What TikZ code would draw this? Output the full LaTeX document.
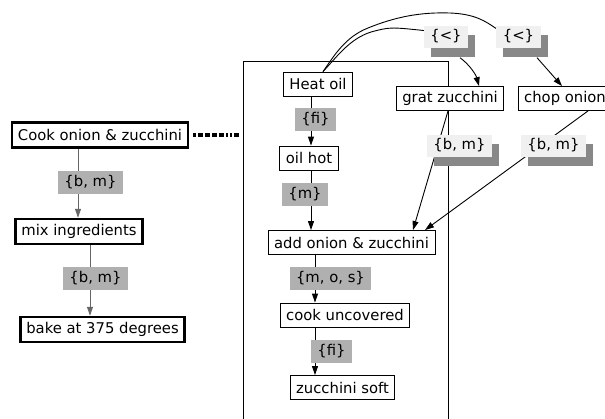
\documentclass[tikz,border=0pt]{standalone}
\usepackage{fontspec}
\setmainfont{DejaVu Sans}
\usetikzlibrary{arrows.meta,shadows,calc}
\definecolor{lblgray}{HTML}{B0B0B0}
\definecolor{lightlbl}{HTML}{F0F0F0}
\definecolor{shadowgray}{HTML}{888888}
\definecolor{edgegray}{HTML}{666666}
\pgfdeclarelayer{background}
\pgfsetlayers{background,main}
\begin{document}
\begin{tikzpicture}[x=1pt,y=-1pt, font=\fontsize{14.8}{18}\selectfont,
 box/.style={draw, fill=white, line width=0.9pt, minimum height=24pt, inner xsep=6pt, inner ysep=0pt},
 thickbox/.style={box, line width=2.5pt, minimum height=25pt},
 glabel/.style={fill=lblgray, minimum height=23pt, inner xsep=6.5pt, inner ysep=0pt},
 slabel/.style={fill=lightlbl, minimum height=22pt, inner xsep=6.5pt, inner ysep=0pt,
   drop shadow={shadow xshift=7pt, shadow yshift=-9pt, fill=shadowgray, opacity=1}},
 arr/.style={-{Triangle[length=9pt,width=6pt]}, line width=0.9pt},
 conn/.style={line width=0.9pt},
]
\useasboundingbox (0,0) rectangle (605,418);

% nodes
\node[thickbox] (cook) at (100,135) {Cook onion \& zucchini};
\node[thickbox] (mix) at (79,231.5) {mix ingredients};
\node[thickbox] (bake) at (102.5,329.5) {bake at 375 degrees};
\node[box] (heat) at (318,84) {Heat oil};
\node[box] (hot) at (309,158) {oil hot};
\node[box] (add) at (351.5,242.5) {add onion \& zucchini};
\node[box] (unc) at (345,315) {cook uncovered};
\node[box] (soft) at (342.5,387.5) {zucchini soft};
\node[box] (grat) at (450,98.5) {grat zucchini};
\node[box] (chop) at (565,98.5) {chop onion};

% edge labels
\node[glabel] (l1) at (90.5,182) {\{b, m\}};
\node[glabel] (l2) at (95.5,278) {\{b, m\}};
\node[glabel] (l3) at (315.5,119.5) {\{fi\}};
\node[glabel] (l4) at (305,194) {\{m\}};
\node[glabel] (l5) at (330.5,278.5) {\{m, o, s\}};
\node[glabel] (l6) at (331.5,351) {\{fi\}};
\node[slabel] (s1) at (446,36.5) {\{<\}};
\node[slabel] (s2) at (518.5,36.5) {\{<\}};
\node[slabel] (s3) at (459.5,145.5) {\{b, m\}};
\node[slabel] (s4) at (553.5,145.5) {\{b, m\}};

\coordinate (xa) at (78,0);
\coordinate (xb) at (90,0);
\coordinate (xc) at (311,0);
\coordinate (xd) at (315,0);

\begin{pgfonlayer}{background}
\node[draw, line width=0.9pt, minimum width=205pt, minimum height=380pt, inner sep=0pt] (cluster) at (345.5,251) {};
\draw[arr, edgegray] (cook.south -| xa) -- (mix.north -| xa);
\draw[arr, edgegray] (mix.south -| xb) -- (bake.north -| xb);
\draw[arr] (heat.south -| xc) -- (hot.north -| xc);
\draw[arr] (hot.south -| xc) -- (add.north -| xc);
\draw[arr] (add.south -| xd) -- (unc.north -| xd);
\draw[arr] (unc.south -| xd) -- (soft.north -| xd);
\draw[arr] ([xshift=-2pt]grat.south) -- ([xshift=61.5pt]add.north);
\draw[arr] ([xshift=23pt]chop.south) -- ([xshift=73.5pt]add.north);
\draw[conn] ([xshift=5pt]heat.north) .. controls (336,58) and (349,39) .. (371,32)
  .. controls (390,27) .. ([yshift=6pt]s1.west) -- (s1.center);
\draw[conn] ([xshift=5pt]heat.north) .. controls (334,56) and (345,37) .. (368,28)
  .. controls (395,17) and (420,12) .. (450,13)
  .. controls (475,14) and (485,21) .. ([yshift=8pt]s2.west) -- (s2.center);
\end{pgfonlayer}

\draw[arr] ($(s1.south)+(14,10)$) .. controls (470,65) and (476,75) .. ([xshift=29pt]grat.north);
\draw[arr] ($(s2.south)+(18.5,10)$) -- ([xshift=-3pt]chop.north);
\draw[line width=4pt, dash pattern=on 3pt off 2pt on 5pt off 2pt on 5pt off 2pt on 5pt off 2pt on 5pt off 2pt on 2pt off 2pt on 2pt off 2pt on 5pt off 10pt]
  ([xshift=4pt]cook.east) -- (cook.east -| cluster.west);
\end{tikzpicture}
\end{document}
